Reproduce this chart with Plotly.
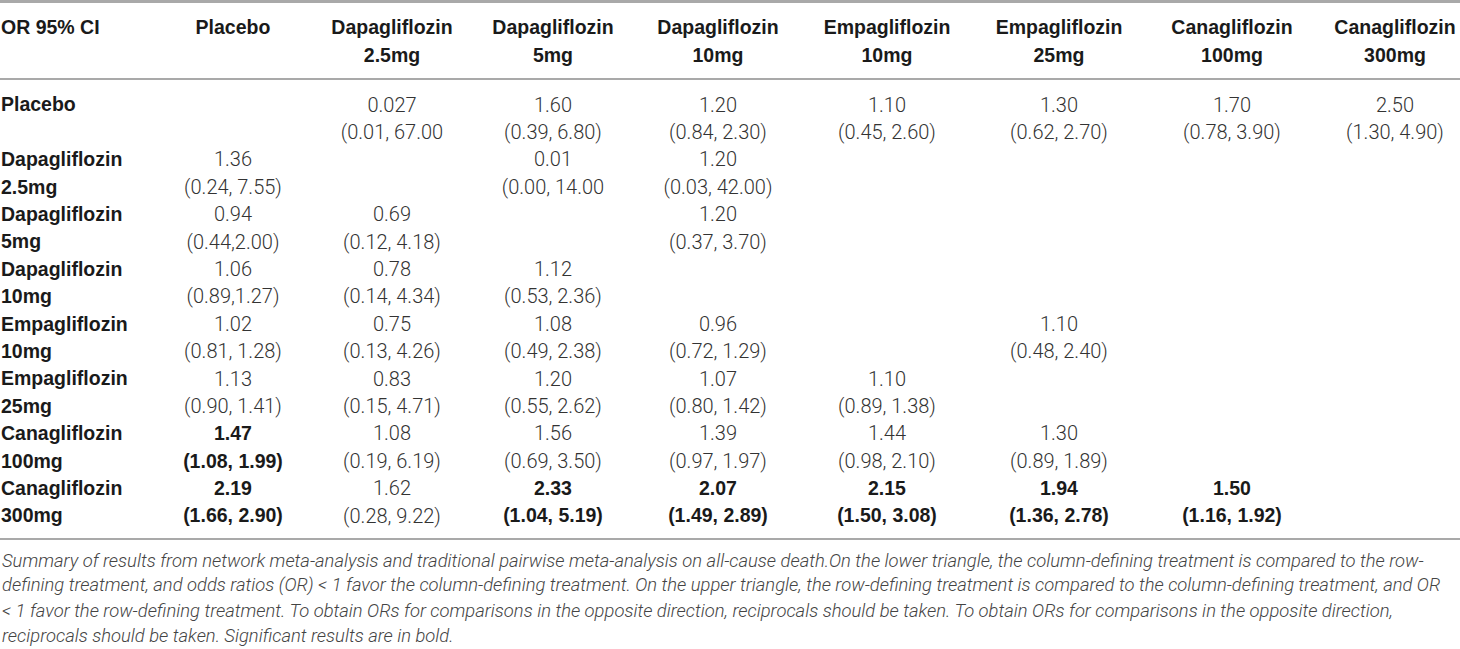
import plotly.graph_objects as go

# treatments (row and column headers)
drug = ["Placebo", "Dapagliflozin", "Dapagliflozin", "Dapagliflozin",
        "Empagliflozin", "Empagliflozin", "Canagliflozin", "Canagliflozin"]
dose = ["", "2.5mg", "5mg", "10mg", "10mg", "25mg", "100mg", "300mg"]
corner = "OR 95% CI"

# odds ratios, row by row ("" = empty cell)
odds = [
    ["", "0.027", "1.60", "1.20", "1.10", "1.30", "1.70", "2.50"],
    ["1.36", "", "0.01", "1.20", "", "", "", ""],
    ["0.94", "0.69", "", "1.20", "", "", "", ""],
    ["1.06", "0.78", "1.12", "", "", "", "", ""],
    ["1.02", "0.75", "1.08", "0.96", "", "1.10", "", ""],
    ["1.13", "0.83", "1.20", "1.07", "1.10", "", "", ""],
    ["1.47", "1.08", "1.56", "1.39", "1.44", "1.30", "", ""],
    ["2.19", "1.62", "2.33", "2.07", "2.15", "1.94", "1.50", ""],
]
ci = [
    ["", "(0.01, 67.00", "(0.39, 6.80)", "(0.84, 2.30)", "(0.45, 2.60)", "(0.62, 2.70)", "(0.78, 3.90)", "(1.30, 4.90)"],
    ["(0.24, 7.55)", "", "(0.00, 14.00", "(0.03, 42.00)", "", "", "", ""],
    ["(0.44,2.00)", "(0.12, 4.18)", "", "(0.37, 3.70)", "", "", "", ""],
    ["(0.89,1.27)", "(0.14, 4.34)", "(0.53, 2.36)", "", "", "", "", ""],
    ["(0.81, 1.28)", "(0.13, 4.26)", "(0.49, 2.38)", "(0.72, 1.29)", "", "(0.48, 2.40)", "", ""],
    ["(0.90, 1.41)", "(0.15, 4.71)", "(0.55, 2.62)", "(0.80, 1.42)", "(0.89, 1.38)", "", "", ""],
    ["(1.08, 1.99)", "(0.19, 6.19)", "(0.69, 3.50)", "(0.97, 1.97)", "(0.98, 2.10)", "(0.89, 1.89)", "", ""],
    ["(1.66, 2.90)", "(0.28, 9.22)", "(1.04, 5.19)", "(1.49, 2.89)", "(1.50, 3.08)", "(1.36, 2.78)", "(1.16, 1.92)", ""],
]
# significant results (row, col) -> bold
significant = [(6, 0), (7, 0), (7, 2), (7, 3), (7, 4), (7, 5), (7, 6)]

caption = [
    "Summary of results from network meta-analysis and traditional pairwise meta-analysis on all-cause death.On the lower triangle, the column-defining treatment is compared to the row-",
    "defining treatment, and odds ratios (OR) &lt; 1 favor the column-defining treatment. On the upper triangle, the row-defining treatment is compared to the column-defining treatment, and OR",
    "&lt; 1 favor the row-defining treatment. To obtain ORs for comparisons in the opposite direction, reciprocals should be taken. To obtain ORs for comparisons in the opposite direction,",
    "reciprocals should be taken. Significant results are in bold.",
]

# layout (pixels)
W, H = 1460, 649
col_x = [233, 392, 553, 718, 887, 1059, 1232, 1395]
label_x = 1
head_y = 29.5
body_y = 106.5
line_h = 27.4
cap_y = 560
cap_h = 25
rule_color = "#a9a9a9"

bold = "Liberation Sans, Arial, sans-serif"
light = "Roboto, Liberation Sans, Arial, sans-serif"
bold_font = dict(family=bold, size=19.5, color="#1a1a1a", weight="bold")

fig = go.Figure()

# header
cx, cy, ct = [], [], []
for j in range(len(drug)):
    cx += [col_x[j], col_x[j]]
    cy += [head_y, head_y + line_h]
    ct += [drug[j], dose[j]]
fig.add_trace(go.Scatter(x=[label_x], y=[head_y], text=[corner], mode="text",
                         textposition="middle right", textfont=bold_font, hoverinfo="skip"))
fig.add_trace(go.Scatter(x=cx, y=cy, text=ct, mode="text", textposition="middle center",
                         textfont=bold_font, hoverinfo="skip"))

# row labels
rx, ry, rt = [], [], []
for i in range(len(drug)):
    rx += [label_x, label_x]
    ry += [body_y + 2 * i * line_h, body_y + (2 * i + 1) * line_h]
    rt += [drug[i], dose[i]]
fig.add_trace(go.Scatter(x=rx, y=ry, text=rt, mode="text", textposition="middle right",
                         textfont=bold_font, hoverinfo="skip"))

# cells
nx, ny, nt = [], [], []
bx, by, bt = [], [], []
for i in range(len(odds)):
    for j in range(len(odds[i])):
        if not odds[i][j]:
            continue
        ys = [body_y + 2 * i * line_h, body_y + (2 * i + 1) * line_h]
        if (i, j) in significant:
            bx += [col_x[j]] * 2; by += ys; bt += [odds[i][j], ci[i][j]]
        else:
            nx += [col_x[j]] * 2; ny += ys; nt += [odds[i][j], ci[i][j]]
fig.add_trace(go.Scatter(x=nx, y=ny, text=nt, mode="text", textposition="middle center",
                         textfont=dict(family=light, size=20, color="#333333", weight=300),
                         hoverinfo="skip"))
fig.add_trace(go.Scatter(x=bx, y=by, text=bt, mode="text", textposition="middle center",
                         textfont=bold_font, hoverinfo="skip"))

# rules
for y, w in [(1.5, 3), (79, 2), (539, 2)]:
    fig.add_shape(type="line", xref="paper", x0=0, x1=1, yref="y", y0=y, y1=y,
                  line=dict(color=rule_color, width=w))

# caption
for k, line in enumerate(caption):
    fig.add_annotation(x=0, xref="paper", xanchor="left", y=cap_y + k * cap_h, yref="y",
                       text="<i>" + line + "</i>", showarrow=False,
                       font=dict(family=light, size=18.4, color="#444444", weight=300))

fig.update_layout(width=W, height=H, margin=dict(l=0, r=0, t=0, b=0),
                  paper_bgcolor="white", plot_bgcolor="white", showlegend=False)
fig.update_xaxes(range=[0, W], visible=False, fixedrange=True)
fig.update_yaxes(range=[H, 0], visible=False, fixedrange=True)

fig.write_html("out.html", config={"displayModeBar": False},
               post_script="document.body.style.margin='0';")
